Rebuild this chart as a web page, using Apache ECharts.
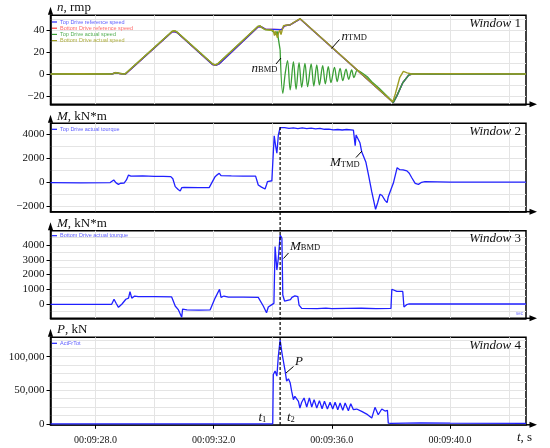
<!DOCTYPE html>
<html><head><meta charset="utf-8">
<script src="https://cdn.jsdelivr.net/npm/echarts@6/dist/echarts.min.js"></script>
<style>html,body{margin:0;padding:0;background:#fff}#c{width:550px;height:448px}</style>
</head><body><div id="c"></div>
<script>
// ---------- axis ticks ----------
const timeGrid = [28, 30, 32, 34, 36, 38, 40, 42];
const timeLabelVals = [28, 32, 36, 40];
const speedGrid = [-20, -10, 0, 10, 20, 30, 40, 50];
const speedLabels = [-20, 0, 20, 40];
const tdTorqueGrid = [-2000, -1000, 0, 1000, 2000, 3000, 4000];
const tdTorqueLabels = [-2000, 0, 2000, 4000];
const bdTorqueGrid = [-500, 0, 500, 1000, 1500, 2000, 2500, 3000, 3500, 4000, 4500];
const bdTorqueLabels = [0, 1000, 2000, 3000, 4000];
const forceGrid = [0, 12500, 25000, 37500, 50000, 62500, 75000, 87500, 100000, 112500, 125000];
const forceLabels = [0, 50000, 100000];
const t2Time = 34.25;

// ---------- Window 1 : speeds [t (s of minute 9), n rpm] ----------
const tdRefSpeed = [[26.48,0],[28.55,0],[28.68,1],[28.8,0.5],[29.02,0],[30.6,38.5],[30.68,38.8],[30.78,37.5],[31.97,8.5],[32.07,7.8],[32.2,9.5],[33.5,43],[33.6,43.2],[33.75,41],[34.3,40.5],[34.4,44],[34.6,45],[34.93,50.3],[38.08,-26],[38.2,-20],[38.4,-8],[38.6,-1],[38.72,0],[42.57,0]];
const bdRefSpeed = [[26.48,0],[28.55,0],[28.68,1],[28.8,0.5],[29.02,0],[30.6,38.5],[30.68,38.8],[30.78,37.5],[31.97,8.5],[32.07,7.8],[32.2,9.5],[33.5,43],[33.6,43.2],[33.75,41],[34.3,40.5],[34.4,44],[34.6,45],[34.93,50.3],[38.08,-26],[38.2,-20],[38.4,-8],[38.6,-1],[38.72,0],[42.57,0]];
const tdActSpeedRamp = [[26.48,0],[27.5,0.2],[28.5,0],[28.6,0.3],[28.68,1.3],[28.78,0.8],[28.9,0.2],[29.0,0],[30.6,39],[30.68,39.5],[30.75,38.5],[31.95,9.5],[32.05,8.2],[32.15,9.5],[33.5,43.5],[33.57,44],[33.65,42],[33.75,40.5],[33.95,40],[34.05,38],[34.1,36],[34.15,39],[34.2,38],[34.25,22]];
const tdActSpeedOsc = [[34.25,22],[34.34,-17.6],[34.42,0],[34.5,12.2],[34.59,-14.6],[34.70,11.3],[34.79,-14],[34.89,10.3],[34.98,-12.2],[35.09,9.7],[35.18,-11.6],[35.30,9.1],[35.39,-11],[35.49,8.2],[35.58,-10],[35.69,7.6],[35.78,-9.1],[35.88,6.7],[35.97,-7.9],[36.09,6.1],[36.18,-7],[36.28,5.2],[36.37,-6.1],[36.48,4.3],[36.57,-4.9],[36.67,3.7],[36.75,-3.3],[36.86,3.5],[36.95,2.2]];
const tdActSpeedTail = [[36.95,2.2],[37.05,0.5],[37.2,-2.5],[37.35,-7],[37.6,-13],[37.9,-21],[38.08,-26],[38.2,-20],[38.4,-8],[38.6,-1],[38.72,0],[42.57,0]];
const bdActSpeed = [[26.48,0],[27.5,0.2],[28.5,0],[28.6,0.3],[28.68,1.3],[28.78,0.8],[28.9,0.2],[29.0,0],[30.6,39],[30.68,39.5],[30.75,38.5],[31.95,9.5],[32.05,8.2],[32.15,9.5],[33.5,43.5],[33.57,44],[33.65,42],[33.75,40.5],[33.95,40],[34.02,39.5],[34.06,35],[34.09,39],[34.12,40],[34.16,33],[34.2,38],[34.24,40],[34.28,36],[34.32,40],[34.36,44],[34.45,44.5],[34.6,45],[34.7,47],[34.93,50.5],[38.06,-25.5],[38.15,-18],[38.3,-3],[38.42,2.3],[38.55,1],[38.7,0],[40,0.3],[42.57,0]];

// ---------- Window 2 : top drive torque [t, kN*m] ----------
const tdTorque = [[26.48,-30],[27.5,-40],[28.5,-20],[28.55,0],[28.62,190],[28.7,-50],[28.78,-170],[28.85,-80],[28.97,-60],[29.05,200],[29.12,600],[29.16,690],[29.2,520],[29.6,540],[30.0,500],[30.3,490],[30.55,470],[30.62,300],[30.7,-360],[30.8,-600],[30.87,-720],[30.92,-450],[31.0,-430],[31.5,-450],[31.85,-440],[31.9,-300],[32.05,470],[32.12,620],[32.19,750],[32.25,550],[32.6,530],[33.0,520],[33.42,510],[33.51,-225],[33.62,-400],[33.74,-560],[33.79,-200],[33.82,50],[33.97,130],[34.05,3880],[34.1,3000],[34.14,2420],[34.19,3940],[34.25,4550],[34.4,4560],[34.55,4490],[34.7,4540],[34.85,4480],[35.0,4540],[35.15,4470],[35.3,4520],[35.45,4460],[35.6,4500],[35.75,4420],[35.9,4430],[36.05,4370],[36.2,4400],[36.35,4360],[36.5,4400],[36.73,4350],[36.79,3050],[36.82,3940],[36.87,3880],[36.95,3300],[37.01,2550],[37.07,2690],[37.15,1700],[37.24,610],[37.35,-780],[37.48,-2250],[37.55,-1700],[37.63,-1000],[37.7,-1100],[37.8,-1500],[37.87,-1700],[37.91,-1200],[38.0,-600],[38.08,-85],[38.21,1220],[38.3,1050],[38.41,1030],[38.54,950],[38.62,750],[38.7,400],[38.82,-85],[38.93,-170],[39.04,0],[39.15,50],[40,20],[42.57,20]];

// ---------- Window 3 : bottom drive torque [t, kN*m] ----------
const bdTorque = [[26.48,-20],[28.55,-20],[28.63,320],[28.7,50],[28.78,-225],[28.9,0],[29.03,320],[29.12,400],[29.17,835],[29.23,400],[29.33,540],[29.45,500],[30.0,500],[30.58,480],[30.7,-135],[30.81,-400],[30.92,-900],[30.95,-350],[31.1,-400],[31.5,-410],[31.88,-400],[32.05,400],[32.2,1000],[32.25,450],[32.35,540],[32.5,460],[33.0,470],[33.51,450],[33.68,-135],[33.79,-590],[33.85,-200],[33.97,-40],[34.04,45],[34.08,3890],[34.14,2300],[34.19,3100],[34.25,4680],[34.31,4470],[34.34,610],[34.4,200],[34.45,330],[34.5,250],[34.55,380],[34.6,300],[34.65,450],[34.7,380],[34.75,550],[34.81,650],[34.85,500],[34.89,-70],[34.98,-300],[35.5,-310],[35.8,-280],[36.0,-310],[36.5,-300],[37.0,-290],[37.5,-310],[38.0,-300],[38.03,1000],[38.2,850],[38.4,850],[38.44,-200],[38.53,-50],[38.6,0],[42.57,0]];

// ---------- Window 4 : axial force P [t, kN] ----------
const axialForce = [[26.48,0],[34.0,0],[34.02,73500],[34.08,78500],[34.14,71000],[34.19,101000],[34.25,125000],[34.31,106000],[34.36,93500],[34.42,78500],[34.47,63500],[34.53,67000],[34.59,61000],[34.64,48500],[34.70,36000],[34.75,41000],[34.81,42500],[34.87,33500],[34.92,23500],[34.98,32000],[35.06,38500],[35.15,25000],[35.24,38500],[35.32,25000],[35.40,36000],[35.49,23500],[35.58,34500],[35.67,22500],[35.75,33500],[35.85,22000],[35.94,32000],[36.03,22000],[36.11,32000],[36.20,21000],[36.28,31000],[36.37,20000],[36.45,31000],[36.56,19500],[36.64,30000],[36.73,21000],[36.84,22000],[37.01,18500],[37.18,14500],[37.35,8500],[37.46,24500],[37.57,13500],[37.69,22000],[37.80,19000],[37.88,20000],[37.91,1000],[38.0,500],[39,1500],[40,1000],[42.57,500]];

// ---------- layout / style ----------
const SERIF = '"Liberation Serif", "DejaVu Serif", serif';
const SANS = '"Liberation Sans", Arial, sans-serif';
const rects = [[50.5,15.3,475.5,89],[50.5,123.3,475.5,88.4],[50.5,230.7,475.5,87.6],[50.5,337.3,475.5,87.5]];
const xRange = [26.48, 42.57];
const yRanges = [[-27.7,53.6],[-2450,4917],[-970,4970],[-1500,128800]];
const yGrids = [speedGrid, tdTorqueGrid, bdTorqueGrid, forceGrid];
const yLabels = [speedLabels, tdTorqueLabels, bdTorqueLabels, forceLabels];
const GRID_COLOR = '#e4e4e4';
const fmtY = v => (v < 0 ? '\u2212' + Math.abs(v) : (Math.abs(v) >= 10000 ? v.toLocaleString('en-US') : String(v)));
const fmtX = v => '00:09:' + (v < 10 ? '0' : '') + v.toFixed(1);

const grids = rects.map(r => ({left:r[0], top:r[1], width:r[2], height:r[3], show:true, borderColor:'#000', borderWidth:1.5}))
  .concat(rects.map(r => ({left:r[0], top:r[1], width:r[2], height:r[3], show:false})));

const xAxes = [], yAxes = [];
for (let i = 0; i < 4; i++) {
  xAxes.push({gridIndex:i, type:'value', min:xRange[0], max:xRange[1],
    axisLine:{show:true, onZero:false, lineStyle:{color:'#000', width:1.5}},
    axisTick:{show:false, customValues:timeGrid}, axisLabel:{show:false},
    splitLine:{show:true, lineStyle:{color:GRID_COLOR, width:1}}});
  yAxes.push({gridIndex:i, type:'value', min:yRanges[i][0], max:yRanges[i][1],
    axisLine:{show:true, onZero:false, lineStyle:{color:'#000', width:1.5}},
    axisTick:{show:false, customValues:yGrids[i]}, axisLabel:{show:false},
    splitLine:{show:true, lineStyle:{color:GRID_COLOR, width:1}}});
}
for (let i = 0; i < 4; i++) {
  xAxes.push({gridIndex:4+i, type:'value', min:xRange[0], max:xRange[1], show: i === 3,
    axisLine:{show:false, onZero:false},
    axisTick:{show:true, customValues:timeLabelVals, length:4, lineStyle:{color:'#000', width:1}},
    axisLabel:{customValues:timeLabelVals, formatter:fmtX, fontFamily:SERIF, fontSize:10, color:'#111', margin:11},
    splitLine:{show:false}});
  yAxes.push({gridIndex:4+i, type:'value', min:yRanges[i][0], max:yRanges[i][1],
    axisLine:{show:false, onZero:false},
    axisTick:{show:true, customValues:yLabels[i], length:4, lineStyle:{color:'#000', width:1}},
    axisLabel:{customValues:yLabels[i], formatter:fmtY, fontFamily:SERIF, fontSize:11, color:'#111', margin:6},
    splitLine:{show:false}});
}

function line(name, data, idx, color, width, extra) {
  return Object.assign({name, type:'line', data, xAxisIndex:idx, yAxisIndex:idx, symbol:'none', showSymbol:false,
    color, lineStyle:{color, width}, animation:false}, extra || {});
}
const C_BLUE = '#2a2aff', C_RED = '#ff3a3a', C_GREEN = '#3a9f35', C_OLIVE = '#9d9d22';

const series = [
  line('Bottom Drive reference speed', bdRefSpeed, 0, C_RED, 1.4),
  line('Top Drive reference speed', tdRefSpeed, 0, C_BLUE, 1.4),
  line('Top Drive actual speed', tdActSpeedRamp, 0, C_GREEN, 1.3),
  line('Top Drive actual speed', tdActSpeedOsc, 0, C_GREEN, 1.3, {smooth:0.35}),
  line('Top Drive actual speed', tdActSpeedTail, 0, C_GREEN, 1.3),
  line('Bottom Drive actual speed', bdActSpeed, 0, C_OLIVE, 1.4),
  line('Top Drive actual tourque', tdTorque, 1, '#2020ff', 1.3),
  line('Bottom Drive actual tourque', bdTorque, 2, '#2020ff', 1.3),
  line('ActFrTot', axialForce, 3, '#2020ff', 1.3)
];

function legend(top, items) {
  return {top, left:52, orient:'vertical', padding:0, itemGap:0, itemWidth:5, itemHeight:1.2, icon:'rect',
    selectedMode:false,
    textStyle:{fontFamily:SANS, fontSize:5.5, lineHeight:6.2, padding:[0,0,0,-2]},
    data: items.map(it => ({name:it[0], textStyle:{color:it[1]}}))};
}
const legends = [
  legend(18.9, [['Top Drive reference speed','#6060ff'],['Bottom Drive reference speed','#ff6a6a'],['Top Drive actual speed','#55b055'],['Bottom Drive actual speed','#b0b040']]),
  legend(126.2, [['Top Drive actual tourque','#6060ff']]),
  legend(232.6, [['Bottom Drive actual tourque','#6060ff']]),
  legend(340.2, [['ActFrTot','#6060ff']])
];

const chart = echarts.init(document.getElementById('c'), null, {renderer:'canvas', width:550, height:448});
chart.setOption({animation:false, backgroundColor:'#fff', grid:grids, xAxis:xAxes, yAxis:yAxes, legend:legends, series});

// ---------- annotations ----------
const g = [];
const big = 13, small = 8.5;
function rtext(x, y, text, rich, align) {
  g.push({type:'text', z:50, style:{x, y, text, rich, align:align||'left', verticalAlign:'middle', fill:'#111'}});
}
const R = {
  i:{fontFamily:SERIF, fontStyle:'italic', fontSize:big, fill:'#111'},
  r:{fontFamily:SERIF, fontSize:big, fill:'#111'},
  s:{fontFamily:SERIF, fontSize:small, fill:'#111', padding:[3,0,0,0]}
};
function seg(x1, y1, x2, y2) {
  g.push({type:'line', z:50, shape:{x1, y1, x2, y2}, style:{stroke:'#000', lineWidth:1}});
}
// y-axis arrows, x-axis arrows
rects.forEach(r => {
  const [L, T, W, H] = r;
  g.push({type:'polygon', z:60, shape:{points:[[L-2.6, T-0.5],[L+2.6, T-0.5],[L, T-8.5]]}, style:{fill:'#000'}});
  g.push({type:'line', z:60, shape:{x1:L+W, y1:T+H, x2:L+W+5, y2:T+H}, style:{stroke:'#000', lineWidth:1.5}});
  g.push({type:'polygon', z:60, shape:{points:[[L+W+3.5, T+H-3],[L+W+3.5, T+H+3],[L+W+11, T+H]]}, style:{fill:'#000'}});
});
// axis titles
rtext(57, 8, '{i|n}{r|, rmp}', R);
rtext(57, 116.5, '{i|M}{r|, kN*m}', R);
rtext(57, 224, '{i|M}{r|, kN*m}', R);
rtext(57, 330, '{i|P}{r|, kN}', R);
rtext(517, 438, '{i|t}{r|, s}', R);
// window labels
['1','2','3','4'].forEach((n, k) => {
  rtext(521, [23.3, 131.7, 238.6, 345.8][k], '{i|Window }{r|' + n + '}', R, 'right');
});
// curve annotations
rtext(251.5, 68.5, '{i|n}{s|BMD}', R); seg(276, 64, 281, 58);
rtext(341.5, 36.5, '{i|n}{s|TMD}', R); seg(339.5, 39.5, 331.5, 48.5);
rtext(330, 163, '{i|M}{s|TMD}', R); seg(356, 157.5, 362, 151);
rtext(290, 246.5, '{i|M}{s|BMD}', R); seg(288.5, 253, 283.5, 258.5);
rtext(295, 361.5, '{i|P}', R); seg(293.5, 366.5, 286, 373);
rtext(258.5, 418, '{i|t}{s|1}', R);
rtext(287, 418, '{i|t}{s|2}', R);
// tiny "sec" tag
g.push({type:'text', z:50, style:{x:516, y:313.5, text:'sec', fontFamily:SANS, fontSize:4.5, fill:'#7070ff', verticalAlign:'middle'}});
// dashed time marker t2
const pTop = chart.convertToPixel({gridIndex:1}, [t2Time, 4600]);
const pBot = chart.convertToPixel({gridIndex:3}, [t2Time, yRanges[3][0]]);
g.push({type:'line', z:55, shape:{x1:pTop[0], y1:pTop[1], x2:pBot[0], y2:pBot[1]}, style:{stroke:'#000', lineWidth:1.2, lineDash:[3,2]}});

chart.setOption({graphic:g});
</script>
</body></html>
